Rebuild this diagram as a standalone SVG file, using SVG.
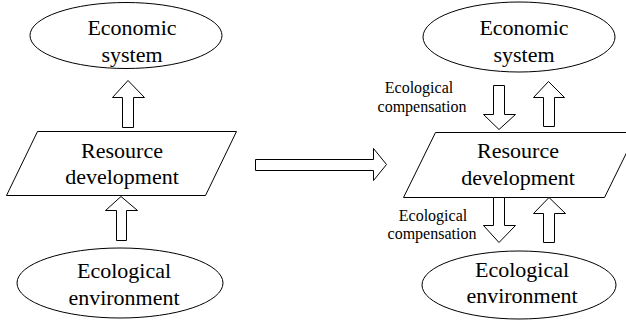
<svg xmlns="http://www.w3.org/2000/svg" width="626" height="320" viewBox="0 0 626 320">
<style>
.s{fill:#fff;stroke:#000;stroke-width:1}
.t{font-family:'Liberation Serif','Times New Roman',serif;font-size:22px;fill:#000;text-anchor:middle}
.l{font-family:'Liberation Serif','Times New Roman',serif;font-size:16px;fill:#000;text-anchor:middle}
</style>
<rect width="626" height="320" fill="#fff"/>
<g id="econ-left"><ellipse class="s" cx="126" cy="35.5" rx="96" ry="33"/><text class="t" x="132" y="35">Economic</text><text class="t" x="132" y="62">system</text></g>
<g id="res-left"><polygon class="s" points="37.5,131.5 236.5,131.5 205.5,195.5 6.5,195.5"/><text class="t" x="122" y="158">Resource</text><text class="t" x="122" y="184">development</text></g>
<g id="eco-left"><ellipse class="s" cx="120" cy="283" rx="103" ry="35"/><text class="t" x="124" y="278">Ecological</text><text class="t" x="124" y="305">environment</text></g>
<g id="econ-right"><ellipse class="s" cx="519" cy="37" rx="96" ry="35"/><text class="t" x="524" y="35">Economic</text><text class="t" x="524" y="62">system</text></g>
<g id="res-right"><polygon class="s" points="435.5,132.5 636.5,132.5 604.5,197.5 403.5,197.5"/><text class="t" x="518" y="158">Resource</text><text class="t" x="518" y="185">development</text></g>
<g id="eco-right"><ellipse class="s" cx="519" cy="285" rx="97" ry="34"/><text class="t" x="522" y="277">Ecological</text><text class="t" x="522" y="303">environment</text></g>
<g id="connectors">
<polygon class="s" points="122.5,127.5 122.5,97.5 112.5,97.5 128,80.5 144.5,97.5 133.5,97.5 133.5,127.5"/>
<polygon class="s" points="116.5,240.5 116.5,210.5 105.5,210.5 121,196.5 137.5,210.5 126.5,210.5 126.5,240.5"/>
<polygon class="s" points="255.5,159.5 373.5,159.5 373.5,148.5 386.5,164.5 373.5,180.5 373.5,170.5 255.5,170.5"/>
<polygon class="s" points="493.5,85.5 504.5,85.5 504.5,114.5 515.5,114.5 499,129.5 483.5,114.5 493.5,114.5"/>
<polygon class="s" points="543.5,126.5 543.5,97.5 533.5,97.5 548.5,81.5 564.5,97.5 554.5,97.5 554.5,126.5"/>
<polygon class="s" points="493.5,197.5 504.5,197.5 504.5,225.5 515.5,225.5 499,242.5 483.5,225.5 493.5,225.5"/>
<polygon class="s" points="543.5,242.5 543.5,213.5 533.5,213.5 549,197.5 565.5,213.5 554.5,213.5 554.5,242.5"/>
<text class="l" x="419" y="93">Ecological</text><text class="l" x="422" y="112">compensation</text>
<text class="l" x="433" y="221">Ecological</text><text class="l" x="432" y="239">compensation</text>
</g>
</svg>
